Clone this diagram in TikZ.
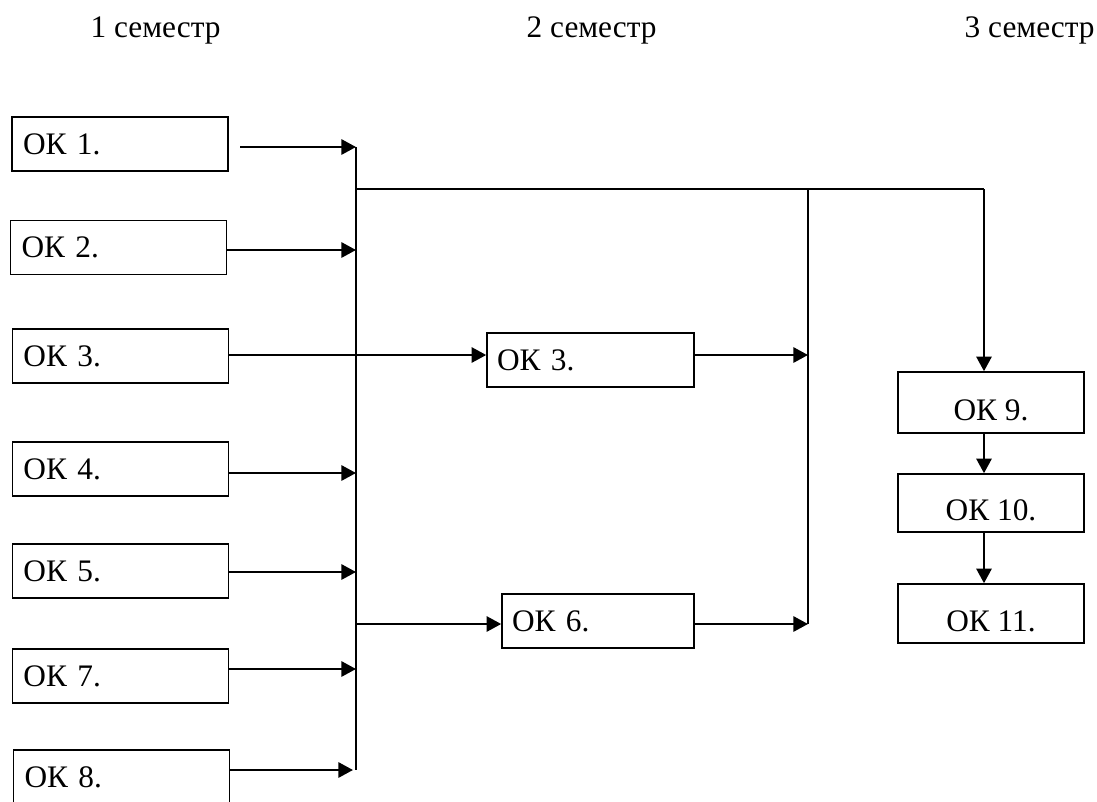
\documentclass[tikz,border=0pt]{standalone}
\usepackage{fontspec}
\setmainfont{Liberation Serif}
\usetikzlibrary{arrows.meta}
\begin{document}
\begin{tikzpicture}[x=0.75pt,y=-0.75pt,
  every node/.style={font=\fontsize{23.5}{27}\selectfont},
  lbox/.style={draw, line width=1.2pt, inner xsep=8.25pt, inner ysep=0pt, text width=145.5pt, align=left, minimum height=40.5pt},
  mbox/.style={draw, line width=1.2pt, inner xsep=7.5pt, inner ysep=0pt, align=left, minimum height=40.5pt},
  rbox/.style={draw, line width=1.2pt, minimum width=139.5pt, inner ysep=0pt, text height=27pt},
  arr/.style={line width=1.6pt, -{Triangle[length=11pt,width=11.5pt]}},
  busl/.style={line width=1.2pt},
  thinl/.style={line width=1pt}]
\path[use as bounding box] (0,0) rectangle (1097,801);
\clip (0,0) rectangle (1097,801);

% headers
\node[anchor=base west] (h1) at (86,37) {1 семестр};
\node[anchor=base west] (h2) at (522,37) {2 семестр};
\node[anchor=base west] (h3) at (960,37) {3 семестр};

% semester 1
\node[lbox] (ok1) at (120,144) {ОК 1.};
\node[lbox] (ok2) at (118.5,247.5) {ОК 2.};
\node[lbox] (ok3a) at (120.5,356) {ОК 3.};
\node[lbox] (ok4) at (120.5,469) {ОК 4.};
\node[lbox] (ok5) at (120.5,571) {ОК 5.};
\node[lbox] (ok7) at (120.5,676) {ОК 7.};
\node[lbox] (ok8) at (121.5,777) {ОК 8.};

% semester 2
\node[mbox, text width=140.25pt] (ok3b) at (590.5,360) {ОК 3.};
\node[mbox, text width=129pt] (ok6) at (598,621) {ОК 6.};

% semester 3
\node[rbox, minimum height=45.75pt] (ok9) at (991,402.5) {ОК 9.};
\node[rbox, minimum height=43.5pt] (ok10) at (991,503) {ОК 10.};
\node[rbox, minimum height=44.25pt] (ok11) at (991,613.5) {ОК 11.};

% coordinates
\coordinate (s1) at (240,147);
\coordinate (btop) at (356,147);
\coordinate (bbot) at (356,770);
\coordinate (jl) at (356,189);
\coordinate (jr) at (808,189);
\coordinate (rc) at (984,189);
\coordinate (rbot) at (808,624);
\coordinate (b2) at (356,250);
\coordinate (b4) at (356,473);
\coordinate (b5) at (356,572);
\coordinate (b6) at (356,624);
\coordinate (b7) at (356,669);
\coordinate (b8) at (353,770);
\coordinate (r3) at (808,355);

% buses
\draw[busl] (btop) -- (bbot);
\draw[busl] (jr) -- (rbot);
\draw[thinl] (jl) -- (rc);
\draw[arr] (rc) -- (rc |- ok9.north);

% arrows into left bus
\draw[arr] (s1) -- (btop);
\draw[arr] (ok2.east |- b2) -- (b2);
\draw[arr] (ok4.east |- b4) -- (b4);
\draw[arr] (ok5.east |- b5) -- (b5);
\draw[arr] (ok7.east |- b7) -- (b7);
\draw[arr] (ok8.east |- b8) -- (b8);

% semester 2 links
\draw[arr] (ok3a.east |- r3) -- (r3 -| ok3b.west);
\draw[arr] (b6) -- (b6 -| ok6.west);
\draw[arr] (ok3b.east |- r3) -- (r3);
\draw[arr] (ok6.east |- rbot) -- (rbot);

% semester 3 chain
\draw[arr] (rc |- ok9.south) -- (rc |- ok10.north);
\draw[arr] (rc |- ok10.south) -- (rc |- ok11.north);
\end{tikzpicture}
\end{document}
